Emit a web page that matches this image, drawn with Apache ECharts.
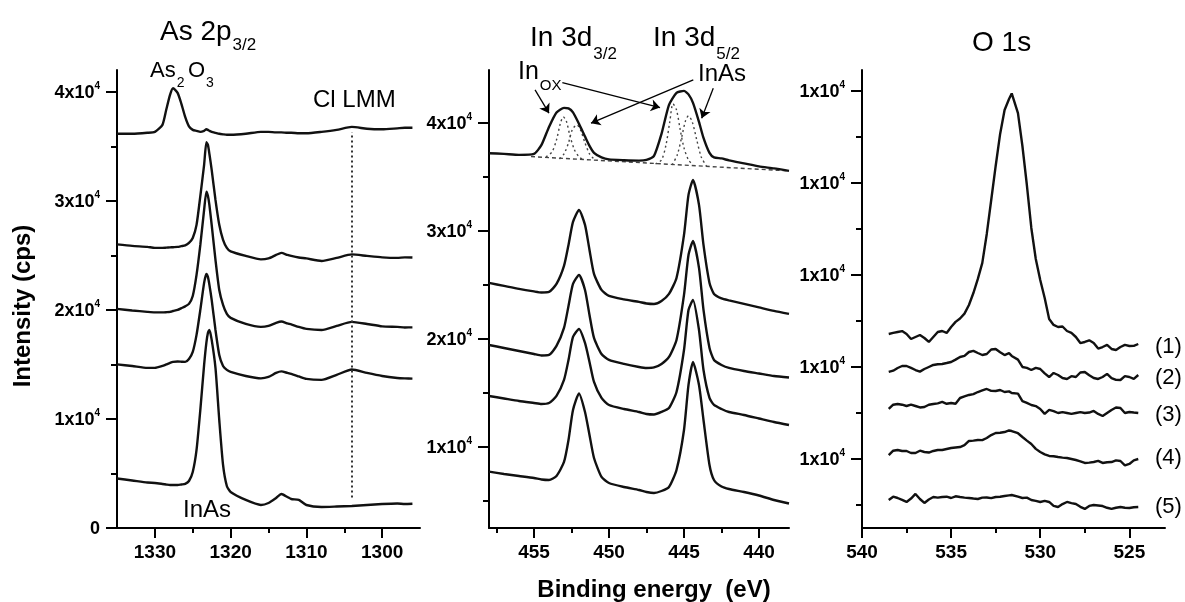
<!DOCTYPE html>
<html><head><meta charset="utf-8">
<script src="https://cdn.jsdelivr.net/npm/echarts@6.0.0/dist/echarts.min.js"></script>
<style>html,body{margin:0;padding:0;background:#fff}#c{width:1185px;height:602px}</style>
</head><body><div id="c"></div><script>
// ---------- As 2p3/2 panel ----------
const asEnergy = [1335,1333,1331,1330,1329,1328.5,1328,1327.6,1327,1326.5,1326,1325.5,1325,1324.5,1324,1323.5,1323.2,1323,1322.8,1322.5,1322,1321.5,1321,1320.5,1320,1318,1316,1315,1314,1313.3,1312.5,1312,1311,1310,1308,1306,1304,1302,1300,1298,1297,1296];
const as1 = [36150,36150,36240,36330,36970,38350,39720,40320,39900,38900,37700,36830,36510,36420,36330,36420,36560,36510,36420,36330,36240,36150,36100,36060,36060,36150,36330,36330,36280,36280,36240,36240,36200,36200,36330,36510,36780,36610,36560,36650,36700,36700];
const as2 = [26010,25870,25780,25690,25690,25710,25730,25750,25780,25850,25920,26150,26600,27800,30440,33300,35370,35140,34300,32840,30090,27800,26420,25690,25370,24950,24630,24720,25040,25230,25040,24950,24810,24720,24490,24770,25090,24950,24820,24770,24820,24800];
const as3 = [20090,19950,19820,19770,19770,19790,19820,19900,20000,20160,20320,20550,21280,23210,25960,29170,30850,30460,29600,27800,24590,21830,20460,19630,19270,18710,18440,18530,18810,18940,18760,18670,18440,18260,18160,18530,18900,18710,18490,18440,18390,18400];
const as4 = [15000,14860,14680,14680,14860,15000,15140,15230,15270,15250,15230,15500,16150,17710,20000,22480,23300,23030,22300,20920,18160,15870,14860,14500,14310,13940,13720,13850,14220,14360,14220,14130,13900,13670,13580,14040,14540,14220,13940,13760,13720,13700];
const as5 = [4540,4360,4170,4130,4040,3990,3940,3940,3940,3990,4040,4310,5140,7160,10830,14950,17000,17890,18170,17250,14680,9910,5780,3850,3300,2570,2110,2290,2750,3120,2840,2660,2570,2110,1930,1970,2020,2110,2200,2250,2200,2220];
const clLMM = [1304, 2800, 36300];           // energy, lower, upper intensity of dotted marker
const asXMajor = [1330,1320,1310,1300];
const asXMinor = [1325,1315,1305];
const asYMajor = [0,10000,20000,30000,40000];
const asYMinor = [5000,15000,25000,35000];

// ---------- In 3d panel ----------
const inEnergy = [458,457,456,455,454.5,454,453.5,453,452.7,452.4,452.0,451.6,451.3,451,450.5,450,449,448,447.5,447,446.5,446,445.5,445,444.7,444.4,444,443.7,443.3,443,442.5,442,441,440,439,438];
const in1 = [37197,37133,37040,37133,37966,39633,40975,41392,41346,40975,39911,38734,37873,37225,36809,36623,36549,36512,36577,36947,38984,41670,42781,42966,42642,41855,40096,38614,37225,36809,36716,36530,36253,35974,35789,35557];
const in2 = [25187,24909,24632,24400,24307,24354,25095,26761,28706,30836,31947,30558,28243,26021,24539,23983,23659,23428,23289,23243,23520,24169,25650,29632,33336,34725,32410,28706,25187,24169,23752,23567,23243,22919,22594,22317];
const in3 = [19446,19168,18890,18613,18474,18520,19353,21020,23057,25095,25928,24539,22224,20094,18613,18057,17687,17409,17316,17363,17687,18335,19909,24076,27780,29076,26576,22687,19168,18057,17594,17316,17038,16807,16575,16437];
const in4 = [14723,14492,14260,14075,13983,14075,14723,16205,18057,20187,20928,19631,17872,16020,14538,13890,13520,13242,13057,13010,13242,13612,15094,18983,22687,23613,20835,17131,14538,13890,13520,13242,12964,12640,12316,12038];
const in5 = [7714,7500,7315,7130,6991,6945,7315,8612,10649,13427,14955,13242,11112,8982,7223,6667,6297,6019,5834,5741,5926,6297,7871,11575,15742,17872,15742,12501,8334,6945,6343,6112,5834,5510,5093,4769];
const inBackground = [[455.2,36883],[438,35557]];
const inOx32 = [[454.2,36855],[453.8,37318],[453.5,38429],[453.25,39911],[453.05,40559],[452.85,40188],[452.6,38799],[452.3,37503],[452.0,36855],[451.8,36670]];
const inAs32 = [[453.3,36670],[453.0,37133],[452.7,38151],[452.45,39355],[452.15,39818],[451.9,39355],[451.6,38151],[451.3,37133],[451.0,36670]];
const inOx52 = [[446.9,36207],[446.5,36577],[446.2,37966],[445.95,40096],[445.73,41763],[445.5,41207],[445.25,39355],[445.0,37688],[444.7,36577],[444.4,36114]];
const inAs52 = [[445.8,36114],[445.45,37040],[445.15,38707],[444.9,40188],[444.7,40652],[444.45,40096],[444.15,38429],[443.85,36855],[443.5,36022]];
const inArrows = [[454.93,43059,454.0,40902],[453.11,43735,446.6,41421],[444.38,43985,451.2,39976],[443.05,43216,443.82,40439]];
const inXMajor = [455,450,445,440];
const inXMinor = [457.5,452.5,447.5,442.5];
const inYMajor = [10000,20000,30000,40000];
const inYMinor = [5000,15000,25000,35000];

// ---------- O 1s panel ----------
const oEnergy = [538.5,538.25,538,537.75,537.5,537.25,537,536.75,536.5,536.25,536,535.75,535.5,535.25,535,534.75,534.5,534.25,534,533.75,533.5,533.25,533,532.75,532.5,532.25,532,531.75,531.6,531.25,531,530.75,530.5,530.25,530,529.75,529.5,529.25,529,528.75,528.5,528.25,528,527.75,527.5,527.25,527,526.75,526.5,526.25,526,525.75,525.5,525.25,525,524.75,524.5];
const o1 = [11359,11370,11380,11390,11359,11304,11326,11348,11315,11272,11326,11380,11391,11370,11435,11490,11527,11580,11674,11804,11957,12131,12446,12815,13185,13533,13793,13913,13973,13760,13402,12978,12511,12174,11946,11750,11522,11457,11435,11440,11391,11370,11326,11260,11272,11290,11261,11200,11217,11240,11196,11185,11217,11240,11228,11230,11250];
const o2 = [10946,10960,10989,11011,11011,10990,10967,10950,10978,11000,11022,11030,11033,11043,11054,11080,11109,11120,11163,11175,11152,11130,11141,11190,11196,11160,11130,11150,11120,11080,11000,10990,10967,10990,10978,10930,10891,10935,10913,10880,10870,10900,10891,10940,10946,10910,10880,10870,10891,10925,10880,10860,10859,10900,10891,10870,10913];
const o3 = [10544,10590,10598,10590,10576,10590,10576,10560,10565,10590,10598,10605,10620,10600,10609,10600,10663,10680,10696,10705,10728,10745,10761,10740,10739,10750,10728,10735,10717,10710,10630,10610,10587,10575,10544,10490,10533,10520,10500,10510,10500,10490,10500,10510,10500,10505,10522,10490,10467,10500,10533,10560,10554,10500,10511,10505,10500];
const o4 = [10043,10090,10098,10087,10087,10065,10065,10090,10076,10070,10087,10098,10098,10109,10120,10125,10130,10150,10196,10200,10207,10205,10228,10260,10283,10285,10293,10310,10304,10280,10239,10200,10163,10110,10076,10050,10033,10030,10022,10015,10011,10000,9989,9975,9957,9960,9967,9980,9957,9965,9967,9985,9978,9930,9946,9985,10000];
const o5 = [9554,9590,9576,9555,9533,9570,9620,9565,9522,9560,9587,9580,9587,9590,9576,9595,9587,9580,9576,9570,9565,9580,9582,9575,9587,9590,9598,9605,9609,9590,9576,9580,9554,9545,9533,9545,9533,9490,9478,9510,9533,9520,9511,9480,9457,9490,9500,9495,9489,9470,9457,9470,9478,9470,9467,9475,9478];
const oXMajor = [540,535,530,525];
const oXMinor = [537.5,532.5,527.5];
const oYMajor = [10000,11000,12000,13000,14000];
const oYMinor = [9500,10500,11500,12500,13500];
const sampleLabels = ['(1)','(2)','(3)','(4)','(5)'];

// ---------- chart ----------
const FONT = '"Liberation Sans", Arial, Helvetica, sans-serif';
const BLACK = '#000';
const chart = echarts.init(document.getElementById('c'), null, {renderer:'canvas'});

const measureCtx = document.createElement('canvas').getContext('2d');
function textWidth(text, size, bold){
  measureCtx.font = (bold ? 'bold ' : '') + size + 'px ' + FONT;
  return measureCtx.measureText(text).width;
}

const yRich = {
  b:{fontSize:18,fontWeight:'bold',fontFamily:FONT,color:BLACK,lineHeight:21,verticalAlign:'bottom'},
  s:{fontSize:10,fontWeight:'bold',fontFamily:FONT,color:BLACK,lineHeight:10,verticalAlign:'top'}
};
const expFmt = v => v === 0 ? '{b|0}' : '{b|' + Math.round(v/1e4) + 'x10}{s|4}';

function xPair(grid, min, max, majors, minors, inverse){
  const base = {type:'value', gridIndex:grid, min, max, inverse, position:'bottom', splitLine:{show:false}, axisPointer:{show:false}};
  return [
    Object.assign({}, base, {
      axisLine:{show:true,onZero:false,lineStyle:{color:BLACK,width:2}},
      axisTick:{show:true,customValues:majors,length:10,lineStyle:{color:BLACK,width:2}},
      axisLabel:{show:true,customValues:majors,margin:15,fontSize:19,fontWeight:'bold',fontFamily:FONT,color:BLACK,formatter:v=>String(v)}
    }),
    Object.assign({}, base, {
      axisLine:{show:false,onZero:false},
      axisTick:{show:true,customValues:minors,length:5,lineStyle:{color:BLACK,width:2}},
      axisLabel:{show:false}
    })
  ];
}
function yPair(grid, min, max, majors, minors){
  const base = {type:'value', gridIndex:grid, min, max, position:'left', splitLine:{show:false}};
  return [
    Object.assign({}, base, {
      axisLine:{show:true,onZero:false,lineStyle:{color:BLACK,width:2}},
      axisTick:{show:true,customValues:majors,length:11,lineStyle:{color:BLACK,width:2}},
      axisLabel:{show:true,customValues:majors,margin:17,formatter:expFmt,rich:yRich}
    }),
    Object.assign({}, base, {
      axisLine:{show:false,onZero:false},
      axisTick:{show:true,customValues:minors,length:6,lineStyle:{color:BLACK,width:2}},
      axisLabel:{show:false}
    })
  ];
}

function curve(xi, yi, energies, values, extra){
  return Object.assign({
    type:'line', xAxisIndex:xi, yAxisIndex:yi,
    data: energies.map((e,i)=>[e, values[i]]),
    showSymbol:false, symbol:'none', smooth:0.2,
    lineStyle:{color:'#111',width:2.4}, z:3, silent:true, animation:false
  }, extra||{});
}
function dotted(xi, yi, pairs, dash, extra){
  return Object.assign({
    type:'line', xAxisIndex:xi, yAxisIndex:yi, data:pairs,
    showSymbol:false, symbol:'none', smooth:0.3,
    lineStyle:{color:'#444',width:1.4,type:dash}, z:2, silent:true, animation:false
  }, extra||{});
}

const series = [
  curve(0,0,asEnergy,as1), curve(0,0,asEnergy,as2), curve(0,0,asEnergy,as3), curve(0,0,asEnergy,as4),
  curve(0,0,asEnergy,as5,{markLine:{silent:true,symbol:['none','none'],animation:false,label:{show:false},
    lineStyle:{color:'#333',width:2,type:[2,3]},
    data:[[{coord:[clLMM[0],clLMM[1]]},{coord:[clLMM[0],clLMM[2]]}]]}}),
  curve(2,2,inEnergy,in1), curve(2,2,inEnergy,in2), curve(2,2,inEnergy,in3), curve(2,2,inEnergy,in4), curve(2,2,inEnergy,in5),
  dotted(2,2,inBackground,[4,3],{smooth:false, markLine:{silent:true,symbol:['none','arrow'],symbolSize:9,animation:false,label:{show:false},
    lineStyle:{color:BLACK,width:1.3,type:'solid'},
    data: inArrows.map(a=>[{coord:[a[0],a[1]]},{coord:[a[2],a[3]]}])}}),
  dotted(2,2,inOx32,[2,3]), dotted(2,2,inAs32,[2,3]), dotted(2,2,inOx52,[2,3]), dotted(2,2,inAs52,[2,3]),
  curve(4,4,oEnergy,o1,{smooth:false}), curve(4,4,oEnergy,o2,{smooth:false}), curve(4,4,oEnergy,o3,{smooth:false}),
  curve(4,4,oEnergy,o4,{smooth:false}), curve(4,4,oEnergy,o5,{smooth:false})
];

function txt(text, x, y, size, opts){
  opts = opts || {};
  return {type:'text', x, y, rotation: opts.rotation || 0, silent:true, z:10,
    style:{text, fontSize:size, fontFamily:FONT, fontWeight:opts.bold?'bold':'normal', fill:BLACK,
      align:opts.align||'left', verticalAlign:'middle', textAlign:opts.align||'left', textVerticalAlign:'middle'}};
}
// main text followed directly by a smaller sub/superscript piece
function withSub(main, sub, x, y, size, subSize, subDy){
  const w = textWidth(main, size, false);
  return [txt(main, x, y, size), txt(sub, x + w + 1, y + subDy, subSize)];
}
const labelY = [346.7, 378, 415, 458, 506.7];
const graphics = [].concat(
  withSub('As 2p','3/2',160,32,28,17,13),
  withSub('As','2',150,71,22,14,12),
  withSub('O','3',188,71,22,14,12),
  [txt('Cl LMM',313,100,24)],
  [txt('InAs',183,510,24)],
  withSub('In 3d','3/2',530,38,28,17,16),
  withSub('In 3d','5/2',653,38,28,17,16),
  withSub('In','OX',518,72,25,15,14),
  [txt('InAs',698,74,24)],
  [txt('O 1s',972,43,28)],
  [txt('Intensity (cps)',23,306,24,{bold:true,align:'center',rotation:Math.PI/2})],
  [txt('Binding energy  (eV)',654,590,24,{bold:true,align:'center'})],
  sampleLabels.map((s,i)=>txt(s,1155,labelY[i],22))
);

chart.setOption({
  backgroundColor:'#fff',
  animation:false,
  grid:[
    {left:117, top:70, width:303, height:458},
    {left:489, top:70, width:300, height:458},
    {left:862, top:70, width:303, height:458}
  ],
  xAxis: [].concat(
    xPair(0,1295,1335,asXMajor,asXMinor,true),
    xPair(1,438,458,inXMajor,inXMinor,true),
    xPair(2,523,540,oXMajor,oXMinor,true)
  ),
  yAxis: [].concat(
    yPair(0,0,42000,asYMajor,asYMinor),
    yPair(1,2500,44900,inYMajor,inYMinor),
    yPair(2,9250,14228,oYMajor,oYMinor)
  ),
  series,
  graphic: graphics
});
</script></body></html>
